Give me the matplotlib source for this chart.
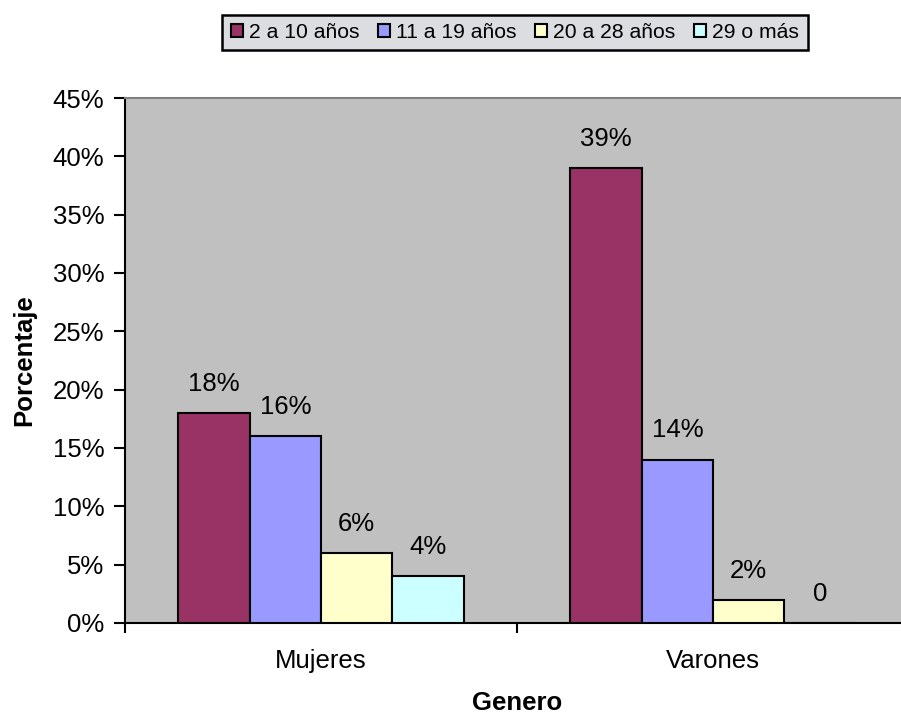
import matplotlib
matplotlib.use("Agg")
import matplotlib.pyplot as plt
from matplotlib.patches import Patch
import numpy as np

plt.rcParams['font.family'] = ['Liberation Sans', 'DejaVu Sans']

categories = ["Mujeres", "Varones"]
series_names = ["2 a 10 años", "11 a 19 años", "20 a 28 años", "29 o más"]
values = [
    [18, 39],   # 2 a 10 años
    [16, 14],   # 11 a 19 años
    [6, 2],     # 20 a 28 años
    [4, 0],     # 29 o más
]
labels = [
    ["18%", "39%"],
    ["16%", "14%"],
    ["6%", "2%"],
    ["4%", "0"],
]
colors = ["#993366", "#9999FF", "#FFFFCC", "#CCFFFF"]
yticks = [0, 5, 10, 15, 20, 25, 30, 35, 40, 45]

FS = 18.5

fig = plt.figure(figsize=(9.01, 7.15), dpi=100)
W, H = 901, 715
left, right, top, bottom = 125, 909, 98, 623
ax = fig.add_axes([left / W, 1 - bottom / H, (right - left) / W, (bottom - top) / H])
ax.set_facecolor("#C0C0C0")

n = len(series_names)
bw = 1.0 / (n + 1.5)
x = np.arange(len(categories))
for i in range(n):
    pos = x + (i - (n - 1) / 2) * bw
    ax.bar(pos, values[i], width=bw, color=colors[i], edgecolor="black",
           linewidth=1.5, zorder=3)
    for xp, v, lab in zip(pos, values[i], labels[i]):
        ax.annotate(lab, (xp, v), xytext=(0, 21), textcoords="offset points",
                    ha="center", va="center", fontsize=FS, zorder=4)

ax.set_xlim(-0.5, 1.5)
ax.set_ylim(0, 45)
ax.set_yticks(yticks)
ax.set_yticklabels([f"{t}%" for t in yticks], fontsize=FS)
ax.set_xticks([-0.5, 0.5, 1.5])
ax.set_xticklabels([])
ax.set_xticks(x, minor=True)
ax.set_xticklabels(categories, minor=True, fontsize=FS)
ax.tick_params(axis="x", which="minor", length=0, pad=19)
ax.tick_params(axis="x", which="major", length=7, width=1.5, direction="out")
ax.tick_params(axis="y", length=8, width=1.5, direction="out", pad=7)

for s in ["left", "bottom"]:
    ax.spines[s].set_linewidth(1.5)
    ax.spines[s].set_color("black")
ax.spines["top"].set_color("#808080")
ax.spines["top"].set_linewidth(1.5)
ax.spines["right"].set_visible(False)

ax.set_ylabel("Porcentaje", fontsize=FS, fontweight="bold", labelpad=12)
ax.set_xlabel("Genero", fontsize=FS, fontweight="bold", labelpad=13)

handles = [Patch(facecolor=c, edgecolor="black", linewidth=1.5) for c in colors]
leg = fig.legend(handles, series_names, loc="center", ncol=4,
                 bbox_to_anchor=(515 / W, 1 - 32.5 / H), fontsize=15.2,
                 frameon=True, fancybox=False, edgecolor="black",
                 facecolor="#DCDDE1", framealpha=1, handlelength=0.58,
                 handleheight=0.58, handletextpad=0.3, columnspacing=0.85,
                 borderpad=0.4, borderaxespad=0)
leg.get_frame().set_linewidth(1.8)

fig.savefig("out.png", dpi=100)
